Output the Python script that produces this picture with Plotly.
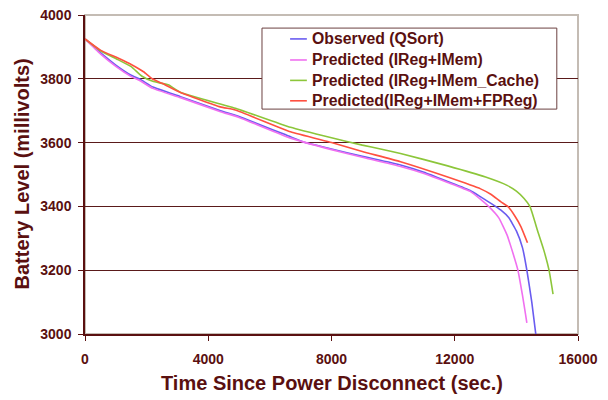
import plotly.graph_objects as go

# ---- data ----
obs_x = [0, 500, 1000, 1500, 1800, 2200, 3100, 4400, 5000, 6670, 7090, 8000, 9000, 10240, 11000, 11770, 12500, 12840, 13200, 13500, 13750, 14000, 14200, 14340, 14500, 14630]
obs_y = [3925, 3882, 3843, 3811, 3798, 3774, 3744, 3700, 3682, 3618, 3602, 3580, 3557, 3530, 3507, 3478, 3450, 3430, 3408, 3388, 3365, 3323, 3270, 3200, 3100, 3000]

imem_x = [0, 500, 1000, 1500, 1800, 2200, 3100, 4400, 5000, 6670, 8000, 9000, 10240, 11000, 11770, 12500, 12840, 13100, 13430, 13700, 13900, 14050, 14200, 14300, 14340]
imem_y = [3925, 3878, 3839, 3807, 3793, 3770, 3741, 3697, 3679, 3614, 3578, 3554, 3525, 3503, 3475, 3447, 3422, 3400, 3364, 3310, 3250, 3200, 3120, 3060, 3035]

cache_x = [0, 500, 1070, 1500, 1850, 2200, 2700, 3090, 4390, 4880, 6670, 8000, 9000, 9590, 10240, 11770, 13000, 13700, 14000, 14250, 14440, 14700, 14890, 15060, 15190]
cache_y = [3925, 3888, 3860, 3838, 3808, 3792, 3781, 3758, 3721, 3708, 3648, 3615, 3592, 3580, 3566, 3527, 3492, 3466, 3448, 3425, 3400, 3320, 3263, 3200, 3125]

fpreg_x = [0, 500, 1070, 1500, 1900, 2180, 2500, 3100, 4390, 4880, 6670, 8000, 9000, 10240, 11770, 12840, 13170, 13500, 13720, 13950, 14150, 14360]
fpreg_y = [3925, 3890, 3865, 3845, 3822, 3800, 3786, 3757, 3712, 3702, 3634, 3600, 3572, 3540, 3492, 3455, 3438, 3414, 3400, 3370, 3336, 3286]

series_names = ["Observed (QSort)", "Predicted (IReg+IMem)", "Predicted (IReg+IMem_Cache)", "Predicted(IReg+IMem+FPReg)"]
series_colors = ["#6a5cf0", "#f070f0", "#8cc63a", "#ff5040"]

x_ticks = [0, 4000, 8000, 12000, 16000]
y_ticks = [3000, 3200, 3400, 3600, 3800, 4000]

x_title = "Time Since Power Disconnect (sec.)"
y_title = "Battery Level (millivolts)"

TXT = "#5a1010"
FONT = "Liberation Sans, Arial, sans-serif"

fig = go.Figure()
for (xs, ys), name, col in zip([(obs_x, obs_y), (imem_x, imem_y), (cache_x, cache_y), (fpreg_x, fpreg_y)],
                               series_names, series_colors):
    fig.add_trace(go.Scatter(x=xs, y=ys, mode="lines", name=name, showlegend=False,
                             line=dict(color=col, width=1.6, shape="spline", smoothing=0.4)))

# Excel-style legend box (drawn in the plot's domain coordinates)
shapes = [dict(type="rect", xref="x domain", yref="y domain", x0=0, x1=1, y0=0, y1=1,
               line=dict(color="#c4bcb4", width=2), layer="below"),
          dict(type="rect", xref="x domain", yref="y domain", x0=0.359, x1=0.957, y0=0.705, y1=0.959,
               line=dict(color="#6b4040", width=1), fillcolor="white", layer="above")]
annotations = []
row_y = [0.925, 0.859, 0.795, 0.731]
for name, col, ry in zip(series_names, series_colors, row_y):
    shapes.append(dict(type="line", xref="x domain", yref="y domain", x0=0.416, x1=0.450, y0=ry, y1=ry,
                       line=dict(color=col, width=1.6), layer="above"))
    annotations.append(dict(xref="x domain", yref="y domain", x=0.456, y=ry, xanchor="left", yanchor="middle",
                            text=name, showarrow=False,
                            font=dict(family=FONT, size=15.8, color=TXT, weight="bold")))

annotations.append(dict(xref="x domain", yref="y domain", x=0.5, y=-0.1536, xanchor="center", yanchor="middle",
                        text=x_title, showarrow=False,
                        font=dict(family=FONT, size=20, color=TXT, weight="bold")))
annotations.append(dict(xref="x domain", yref="y domain", x=-0.1298, y=0.5, xanchor="center", yanchor="middle",
                        text=y_title, showarrow=False, textangle=-90,
                        font=dict(family=FONT, size=20, color=TXT, weight="bold")))

fig.update_layout(
    width=608, height=400,
    margin=dict(l=85, r=30, t=15, b=66, autoexpand=False),
    paper_bgcolor="white", plot_bgcolor="white",
    font=dict(family=FONT, color=TXT, size=14),
    showlegend=False,
    hovermode=False,
    shapes=shapes,
    annotations=annotations,
)

fig.update_xaxes(range=[0, 16000], tickvals=x_ticks, ticktext=[str(v) for v in x_ticks],
                 showgrid=False, zeroline=False, automargin=False,
                 showline=True, linecolor=TXT, linewidth=1.5,
                 ticks="outside", ticklen=5, tickcolor=TXT, tickwidth=1,
                 tickfont=dict(family=FONT, size=14, color=TXT, weight="bold"),
                 ticklabelstandoff=6)

fig.update_yaxes(range=[3000, 4000], tickvals=y_ticks, ticktext=[str(v) for v in y_ticks],
                 showgrid=True, gridcolor="#5a1a1a", gridwidth=1, zeroline=False, automargin=False,
                 showline=True, linecolor=TXT, linewidth=1.5,
                 ticks="outside", ticklen=5, tickcolor=TXT, tickwidth=1,
                 tickfont=dict(family=FONT, size=14, color=TXT, weight="bold"),
                 ticklabelstandoff=4)

fig.write_html("out.html", config={"displayModeBar": False},
               post_script="document.body.style.margin='0';document.body.style.overflow='hidden';")
